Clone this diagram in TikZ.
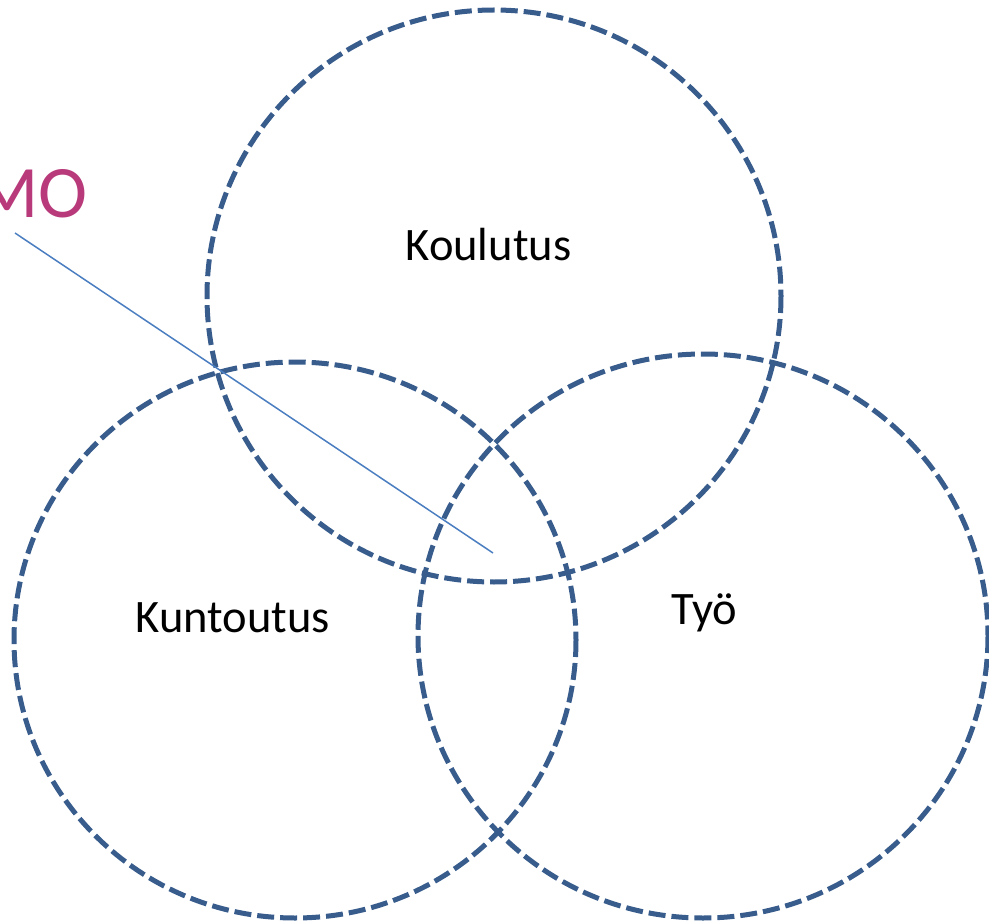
\documentclass[tikz,border=0pt]{standalone}
\usepackage{fontspec}
\setmainfont{Carlito}
\definecolor{ringblue}{HTML}{385C8C}
\definecolor{lineblue}{HTML}{4A7EC0}
\definecolor{momag}{HTML}{B83A7A}
\begin{document}
\begin{tikzpicture}[x=1pt,y=-1pt,
  ring/.style={draw=ringblue, line width=5pt, dash pattern=on 17pt off 6pt},
  label/.style={anchor=base, inner sep=0pt, font=\fontsize{46.5}{50}\selectfont},
  motext/.style={anchor=base east, inner sep=0pt, text=momag, font=\fontsize{74}{80}\selectfont}]
\useasboundingbox (0,0) rectangle (989,923);
\draw[ring] (494,296) ellipse [x radius=287, y radius=286];
\draw[ring] (295,640) ellipse [x radius=281, y radius=278];
\draw[ring] (703,636) ellipse [x radius=285, y radius=282];
\node[label] (koulutus) at (488.5,261) {Koulutus};
\node[label] (kuntoutus) at (233,632) {Kuntoutus};
\node[label] (tyo) at (704.5,624) {Työ};
\node[motext] (mo) at (88,218) {MO};
\coordinate (lstart) at (15,233);
\coordinate (lend) at (493,553);
\draw[lineblue, line width=1.5pt] (lstart) -- (lend);
\end{tikzpicture}
\end{document}
